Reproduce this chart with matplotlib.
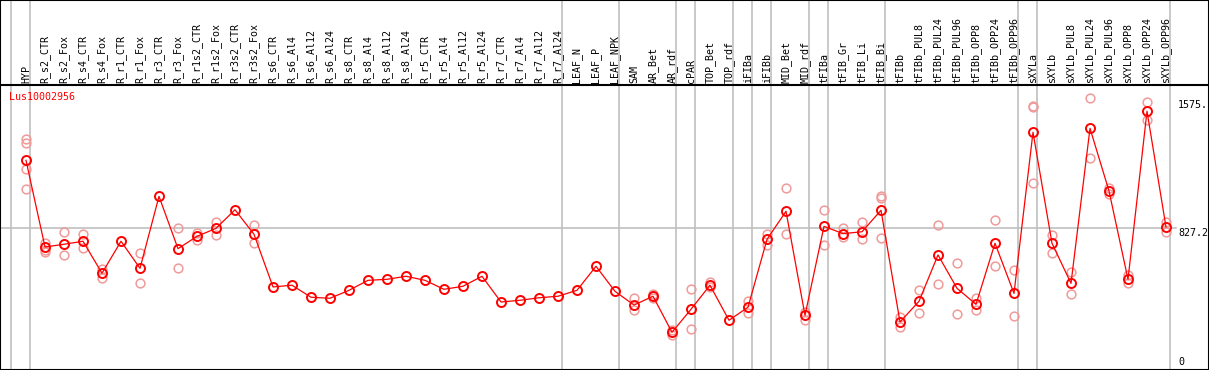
import matplotlib
matplotlib.use("Agg")
import matplotlib.pyplot as plt

categories = ["HYP", "R_s2_CTR", "R_s2_Fox", "R_s4_CTR", "R_s4_Fox", "R_r1_CTR", "R_r1_Fox",
              "R_r3_CTR", "R_r3_Fox", "R_r1s2_CTR", "R_r1s2_Fox", "R_r3s2_CTR", "R_r3s2_Fox",
              "R_s6_CTR", "R_s6_Al4", "R_s6_Al12", "R_s6_Al24", "R_s8_CTR", "R_s8_Al4",
              "R_s8_Al12", "R_s8_Al24", "R_r5_CTR", "R_r5_Al4", "R_r5_Al12", "R_r5_Al24",
              "R_r7_CTR", "R_r7_Al4", "R_r7_Al12", "R_r7_Al24", "LEAF_N", "LEAF_P", "LEAF_NPK",
              "SAM", "AR_Bet", "AR_rdf", "cPAR", "TOP_Bet", "TOP_rdf", "iFIBa", "iFIBb",
              "MID_Bet", "MID_rdf", "tFIBa", "tFIB_Gr", "tFIB_Li", "tFIB_Bi", "tFIBb",
              "tFIBb_PUL8", "tFIBb_PUL24", "tFIBb_PUL96", "tFIBb_OPP8", "tFIBb_OPP24",
              "tFIBb_OPP96", "sXYLa", "sXYLb", "sXYLb_PUL8", "sXYLb_PUL24", "sXYLb_PUL96",
              "sXYLb_OPP8", "sXYLb_OPP24", "sXYLb_OPP96"]

means = [1227, 715, 731, 749, 560, 749, 589, 1014, 705, 778, 825, 935, 790,
         479, 489, 418, 412, 459, 518, 524, 542, 518, 465, 483, 542,
         390, 400, 415, 424, 459, 601, 453,
         372, 424, 211, 347, 489, 282, 359, 760,
         926, 311, 837, 794, 805, 932, 272,
         394, 668, 471, 376, 737, 441,
         1393, 737, 500, 1416, 1046, 524, 1517, 833]

replicates = [[1353, 1328, 1174, 1056], [740, 697, 685], [802, 666], [790, 707], [585, 534],
              [], [681, 500], [], [825, 589], [798, 755], [863, 788], [], [843, 737],
              [], [], [], [], [], [], [], [], [], [], [], [],
              [], [], [], [], [], [], [],
              [412, 343], [437, 412], [225, 195], [465, 229], [510, 480], [], [396, 327], [792, 729],
              [1062, 790], [331, 284], [932, 725], [829, 776], [863, 760], [1018, 1006, 768], [300, 244],
              [459, 323], [843, 495], [619, 317], [414, 343], [873, 601], [577, 305],
              [1548, 1540, 1095], [786, 681], [565, 435], [1594, 1239], [1065, 1026], [549, 502],
              [1570, 1465], [864, 802]]

group_ends = [-1, 0, 28, 31, 34, 35, 37, 38, 39, 41, 42, 45, 52, 53, 60]
gene_name = "Lus10002956"
y_ticks = [1575, 827.2, 0]
y_tick_labels = ["1575.", "827.2", "0"]

W, H = 1209, 370
HEADER = 85
DX = 19.0
X0 = 26.0
mono = "DejaVu Sans Mono"
fs = 7.2
grey = "#c0c0c0"
red = "#ff0000"
pink = "#f09a9a"

fig = plt.figure(figsize=(W / 100, H / 100), dpi=100)
xl = (-X0 / DX, (W - X0) / DX)

# header axes
axh = fig.add_axes([0, (H - HEADER) / H, 1, HEADER / H])
axh.set_xlim(*xl)
axh.set_ylim(0, HEADER)
axh.set_xticks([]); axh.set_yticks([])
for s in axh.spines.values():
    s.set_color("black"); s.set_linewidth(1.5)
axh.spines["bottom"].set_visible(False)
for i, c in enumerate(categories):
    axh.text(i, 2, c, rotation=90, ha="center", va="bottom", family=mono, fontsize=fs, color="black")
for g in group_ends:
    axh.axvline(g + 4 / DX, color=grey, lw=1.2, zorder=0)

# plot axes
ax = fig.add_axes([0, 0, 1, (H - HEADER) / H])
ax.set_xlim(*xl)
scale = 827.2 / 140.0
ax.set_ylim(-(H - 368) * scale, (368 - HEADER) * scale)
ax.set_xticks([]); ax.set_yticks([])
for s in ax.spines.values():
    s.set_color("black"); s.set_linewidth(1.5)
for g in group_ends:
    ax.axvline(g + 4 / DX, color=grey, lw=1.2, zorder=0)
ax.plot([xl[0], (1176 - X0) / DX], [y_ticks[1]] * 2, color=grey, lw=1.2, zorder=0)

for i, reps in enumerate(replicates):
    if reps:
        ax.plot([i] * len(reps), reps, linestyle="none", marker="o", markersize=6.3,
                markerfacecolor="none", markeredgecolor=pink, markeredgewidth=1.1, zorder=2)

ax.plot(range(len(means)), means, color=red, lw=0.9, marker="o", markersize=6.5,
        markerfacecolor="none", markeredgecolor=red, markeredgewidth=1.4, zorder=3)

lx = (1178 - X0) / DX
ax.text(lx, y_ticks[0] + 1.5 * scale, y_tick_labels[0], ha="left", va="top", family=mono, fontsize=fs, clip_on=True)
ax.text(lx, y_ticks[1] - 0.5 * scale, y_tick_labels[1], ha="left", va="top", family=mono, fontsize=fs, clip_on=True)
ax.text(lx, y_ticks[2] + 6 * scale, y_tick_labels[2], ha="left", va="center", family=mono, fontsize=fs, clip_on=True)

fig.text(9 / W, 1 - 97 / H, gene_name, color=red, family=mono, fontsize=fs, ha="left", va="center")

fig.savefig("out.png", dpi=100)
